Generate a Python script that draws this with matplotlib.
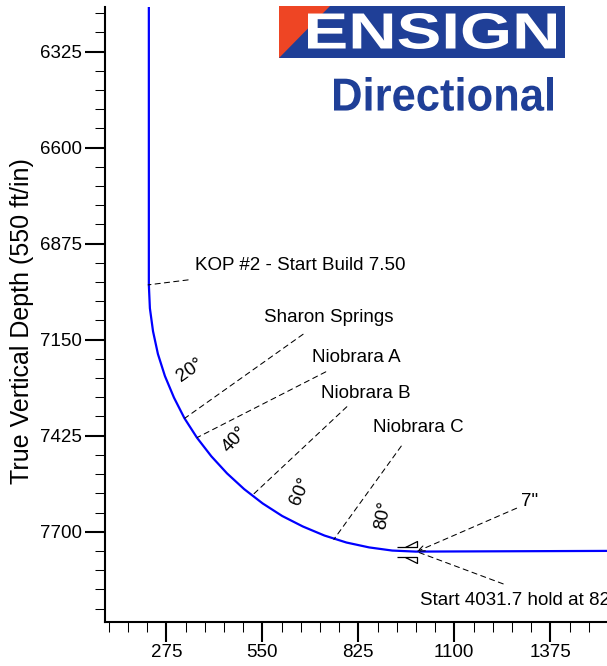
import matplotlib
matplotlib.use("Agg")
import matplotlib.pyplot as plt
from matplotlib.ticker import MultipleLocator
from matplotlib.path import Path
from matplotlib.patches import PathPatch, Polygon, Rectangle
from matplotlib.textpath import TextPath
from matplotlib.font_manager import FontProperties
from matplotlib.transforms import Affine2D

plt.rcParams['font.family'] = ['Liberation Sans', 'DejaVu Sans']

# trajectoire (section verticale, TVD)
vs_ft = [225, 225, 228, 237, 251, 271, 297, 327, 363, 404, 449, 498, 551,
         607, 666, 728, 791, 856, 922, 989, 1540]
tvd_ft = [6150, 6993, 7060, 7126, 7191, 7254, 7316, 7375, 7431, 7484, 7533,
          7578, 7619, 7655, 7685, 7711, 7731, 7745, 7754, 7757, 7755]

# KOP et atterrissage
kop = (223, 6993)
landing = (992, 7757)

# formations
tops_name = ['Sharon Springs', 'Niobrara A', 'Niobrara B', 'Niobrara C']
tops_vs = [328, 364, 520, 755]
tops_tvd = [7375, 7430, 7597, 7722]

# inclinaisons affichées
inc_labels = ['20°', '40°', '60°', '80°']
inc_vs = [343, 472, 658, 897]
inc_tvd = [7237, 7437, 7585, 7652]

x_ticks = [275, 550, 825, 1100, 1375]
y_ticks = [6325, 6600, 6875, 7150, 7425, 7700]

fig = plt.figure(figsize=(6.07, 6.66), dpi=100)
ax = fig.add_axes([105 / 607, 44.3 / 666, 502 / 607, 614.7 / 666])

ax.plot(vs_ft, tvd_ft, color='#0000ff', lw=1.6, zorder=3)

ax.set_xlim(99.4, 1537.4)
ax.set_ylim(7957.8, 6197)

ax.set_xticks(x_ticks)
ax.set_yticks(y_ticks)
ax.xaxis.set_minor_locator(MultipleLocator(55))
ax.yaxis.set_minor_locator(MultipleLocator(55))
ax.tick_params(which='major', length=14.4, width=1.5, labelsize=13.5)
ax.tick_params(which='minor', length=7.2, width=0.75)
ax.tick_params(axis='x', which='major', pad=1.5)
ax.tick_params(axis='y', which='major', pad=2.2)
for s in ['top', 'right']:
    ax.spines[s].set_visible(False)
for s in ['left', 'bottom']:
    ax.spines[s].set_linewidth(1.5)

fig.text(22 / 607, 1 - 321 / 666, 'True Vertical Depth (550 ft/in)',
         rotation=90, ha='center', va='center', fontsize=18)

dash = (0, (5, 4))


def tag(xy, text, line_off, text_off, ha='center', arrow='-'):
    ax.annotate('', xy=xy, xytext=line_off, textcoords='offset pixels',
                arrowprops=dict(arrowstyle=arrow, linestyle=dash, lw=0.75,
                                color='black', shrinkA=0, shrinkB=0))
    ax.annotate(text, xy=xy, xytext=text_off, textcoords='offset pixels',
                ha=ha, va='center', fontsize=13.5)


tag(kop, 'KOP #2 - Start Build 7.50', (40, 5), (46.7, 19), ha='left')

line_offs = [(118.3, 84), (128.4, 65.6), (95, 89), (67.4, 93.3)]
text_offs = [(144, 100.6), (159.4, 79.6), (113.6, 102.4), (84.9, 112)]
for i in range(len(tops_name)):
    tag((tops_vs[i], tops_tvd[i]), tops_name[i], line_offs[i], text_offs[i])

tag(landing, '7"', (100, 43.4), (113.3, 50), ha='center',
    arrow='->,head_length=0.5,head_width=0.2')
tag(landing, 'Start 4031.7 hold at 8250.0 MD', (86.6, -32.3), (3.3, -49),
    ha='left')

rots = [35, 47, 67, 80]
for i in range(len(inc_labels)):
    ax.text(inc_vs[i], inc_tvd[i], inc_labels[i], rotation=rots[i],
            ha='center', va='center', fontsize=13.5)

# symbole du sabot de cuvelage
shoe = Path([(-20, 5), (0, 5), (0, 11), (-12, 5),
             (-20, -5), (0, -5), (0, -11), (-12, -5)],
            [Path.MOVETO, Path.LINETO, Path.LINETO, Path.LINETO,
             Path.MOVETO, Path.LINETO, Path.LINETO, Path.LINETO])
ax.plot([landing[0]], [landing[1]], marker=shoe, markersize=28.8,
        markerfacecolor='none', markeredgecolor='black', mew=0.9, zorder=4)

# logo
lg = fig.add_axes([0, 0, 1, 1], zorder=5)
lg.set_xlim(0, 607)
lg.set_ylim(0, 666)
lg.axis('off')
lg.patch.set_alpha(0)

blue = '#1f3f97'
lg.add_patch(Rectangle((279, 608), 286, 52, color=blue, lw=0))
lg.add_patch(Polygon([(279, 660), (330, 660), (279, 608)], closed=True,
                     color='#ee4524', lw=0))


def logo_text(s, x0, x1, y0, y1, color):
    tp = TextPath((0, 0), s, size=50, prop=FontProperties(family='Liberation Sans', weight='bold'))
    ext = tp.get_extents()
    tr = Affine2D().translate(-ext.x0, -ext.y0).scale((x1 - x0) / ext.width,
                                                      (y1 - y0) / ext.height).translate(x0, y0)
    lg.add_patch(PathPatch(tr.transform_path(tp), color=color, lw=0))


logo_text('ENSIGN', 308, 556, 617, 653, 'white')
logo_text('Directional', 334, 553, 555, 589, blue)

fig.savefig('out.png', dpi=100)
